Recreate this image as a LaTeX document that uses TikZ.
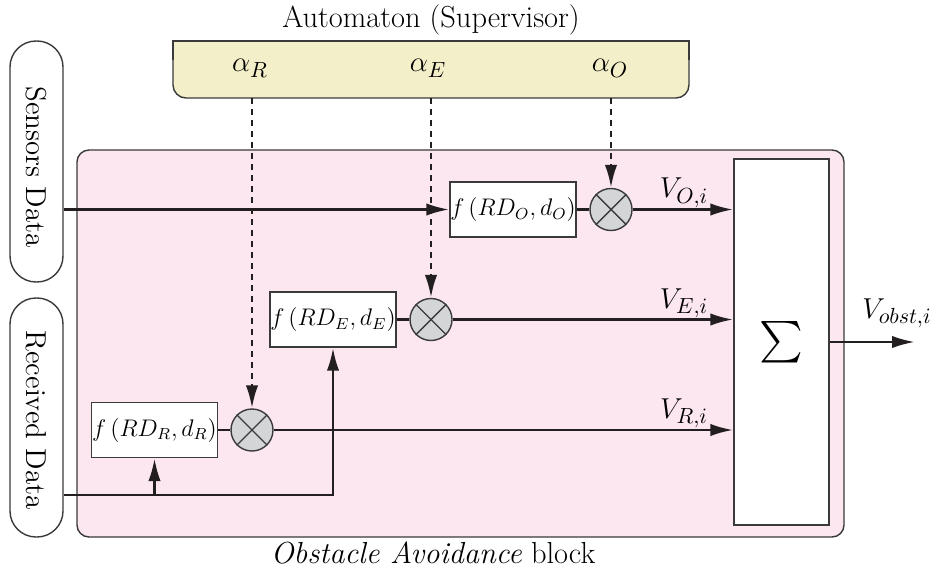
\documentclass[tikz,border=0pt]{standalone}
\usepackage{amsmath}
\usetikzlibrary{arrows.meta}
\definecolor{autofill}{HTML}{F3EFC8}
\definecolor{blockfill}{HTML}{FCE7F0}
\definecolor{circfill}{HTML}{D4D5D7}
\definecolor{edge}{HTML}{3A3A3A}
\definecolor{ink}{HTML}{231F20}
\begin{document}
\begin{tikzpicture}[x=0.5pt,y=-0.5pt,
  boxline/.style={draw=edge,line width=0.7pt},
  fbox/.style={boxline,fill=white,minimum width=63pt,minimum height=27.5pt,inner sep=0pt,font=\large},
  mult/.style={boxline,circle,fill=circfill,minimum size=21pt,inner sep=0pt},
  pill/.style={boxline,fill=white,rounded corners=13pt,minimum width=26.5pt,inner sep=0pt},
  arr/.style={draw=ink,line width=1.35pt,-{Latex[length=11.5pt,width=6.2pt]}},
  plain/.style={draw=ink,line width=1.35pt},
  dasharr/.style={arr,dash pattern=on 3pt off 2.5pt},
  lbl/.style={font=\fontsize{15.2}{18}\selectfont,inner sep=0pt,anchor=base}]
\useasboundingbox (0,0) rectangle (935,572);

% automaton (supervisor)
\fill[autofill,rounded corners=6.5pt] (173,41) rectangle (689,98);
\fill[autofill] (173,41) rectangle (689,70);
\draw[boxline] (173,60) -- (173,41) -- (689,41) -- (689,60);
\draw[boxline,rounded corners=6.5pt] (173,60) -- (173,98) -- (689,98) -- (689,60);
\node[lbl] (title) at (431,28) {Automaton (Supervisor)};
\node[lbl] (aR) at (250,72) {$\alpha_R$};
\node[lbl] (aE) at (428,72) {$\alpha_E$};
\node[lbl] (aO) at (610,72) {$\alpha_O$};
\coordinate (autoR) at (252,98);
\coordinate (autoE) at (431,98);
\coordinate (autoO) at (611,98);

% input pills
\node[pill,minimum height=120.5pt] (sens) at (36.5,161.5) {};
\node[font=\Large,rotate=-90,inner sep=0pt] (sensT) at (36.5,167) {Sensors Data};
\node[pill,minimum height=119.5pt] (recv) at (36.5,417.5) {};
\node[font=\Large,rotate=-90,inner sep=0pt] (recvT) at (36.5,420) {Received Data};

% obstacle avoidance block
\node[boxline,fill=blockfill,rounded corners=6pt,minimum width=383.5pt,minimum height=193.5pt,inner sep=0pt] (block) at (460.5,343.5) {};
\node[lbl] (blockT) at (433,563) {\textit{Obstacle Avoidance} block};

% inner blocks
\node[fbox] (fO) at (513,209.5) {$f\left(RD_O,d_O\right)$};
\node[fbox] (fE) at (333,319.5) {$f\left(RD_E,d_E\right)$};
\node[fbox] (fR) at (154.5,430) {$f\left(RD_R,d_R\right)$};
\node[mult] (mO) at (611,209.5) {};
\node[mult] (mE) at (431,319.5) {};
\node[mult] (mR) at (252,430) {};
\foreach \m in {mO,mE,mR}{
  \draw[boxline] (\m.45) -- (\m.225);
  \draw[boxline] (\m.135) -- (\m.-45);
}
\node[boxline,fill=white,minimum width=47.5pt,minimum height=183pt,inner sep=0pt] (sum) at (781.5,342) {};
\node[font=\huge] (sumT) at (sum.center) {$\sum$};

% connectors
\coordinate (jR) at (154.5,495);
\coordinate (out) at (915,342);
\draw[arr] (sens.east |- fO.west) -- (fO.west);
\draw[arr] (recv.east |- jR) -| (fE.south);
\draw[arr] (jR) -- (fR.south);
\draw[plain] (fO.east) -- (mO.west);
\draw[plain] (fE.east) -- (mE.west);
\draw[plain] (fR.east) -- (mR.west);
\draw[arr] (mO.east) -- (mO.east -| sum.west);
\draw[arr] (mE.east) -- (mE.east -| sum.west);
\draw[arr] (mR.east) -- (mR.east -| sum.west);
\draw[arr] (sum.east |- out) -- (out);
\draw[dasharr] (autoR) -- (mR.north);
\draw[dasharr] (autoE) -- (mE.north);
\draw[dasharr] (autoO) -- (mO.north);

% labels
\node[lbl] (vO) at (684,198) {$V_{O,i}$};
\node[lbl] (vE) at (684,308) {$V_{E,i}$};
\node[lbl] (vR) at (684,418) {$V_{R,i}$};
\node[lbl] (vOut) at (897,318) {$V_{obst,i}$};
\end{tikzpicture}
\end{document}
